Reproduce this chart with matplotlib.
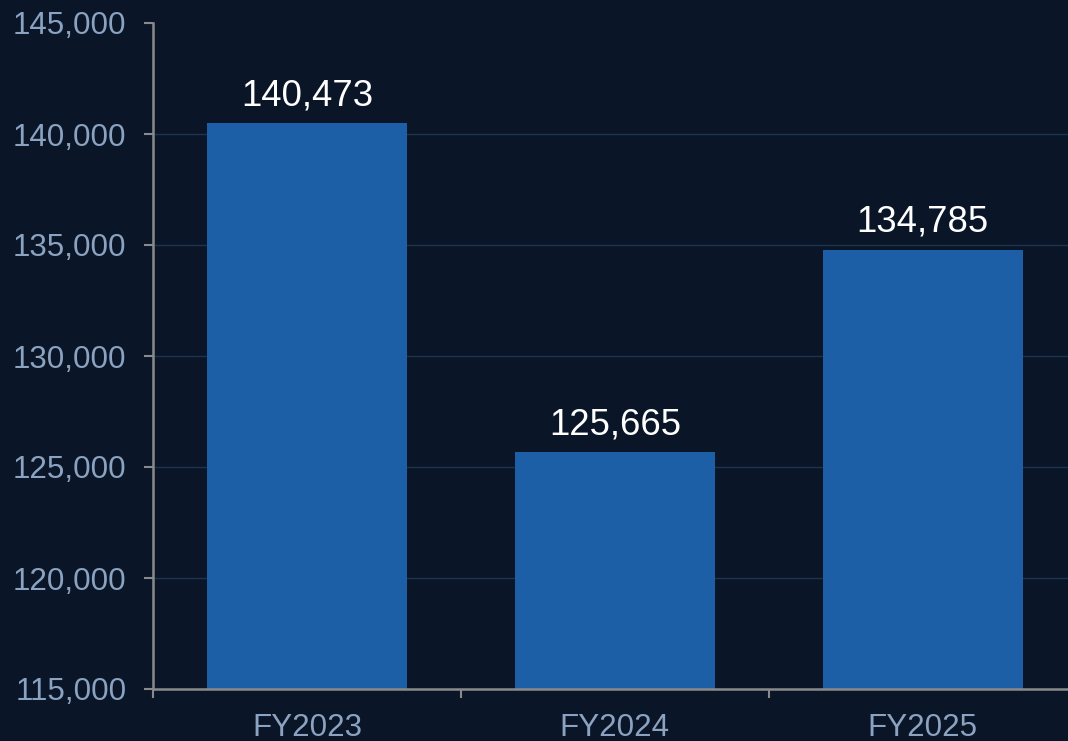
import matplotlib
matplotlib.use('Agg')
import matplotlib.pyplot as plt
from matplotlib.ticker import FuncFormatter, FixedLocator

years = ['FY2023', 'FY2024', 'FY2025']
values = [140473, 125665, 134785]
y_ticks = [115000, 120000, 125000, 130000, 135000, 140000, 145000]

bg = '#0a1628'
bar_color = '#1c5fa6'
tick_color = '#8ba3c0'
axis_color = '#8a8a8a'
grid_color = '#1c3450'

plt.rcParams['font.family'] = ['Liberation Sans', 'DejaVu Sans']

fig = plt.figure(figsize=(10.68, 7.41), dpi=100, facecolor=bg)
ax = fig.add_axes([153 / 1068, 1 - 689 / 741, (1076.5 - 153) / 1068, (689 - 23) / 741])
ax.set_facecolor(bg)

x = range(len(years))
bars = ax.bar(x, values, width=0.65, color=bar_color, zorder=2)

ax.set_xlim(-0.5, 2.5)
ax.set_ylim(115000, 145000)
ax.set_yticks(y_ticks)
ax.yaxis.set_major_formatter(FuncFormatter(lambda v, p: f'{int(v):,}'))
ax.set_xticks(list(x))
ax.set_xticklabels(years)
ax.xaxis.set_minor_locator(FixedLocator([-0.5, 0.5, 1.5, 2.5]))

ax.tick_params(axis='y', colors=axis_color, labelcolor=tick_color, labelsize=22.6,
               length=6.5, width=1.5, pad=12.5)
ax.tick_params(axis='x', which='major', length=0, labelcolor=tick_color,
               labelsize=22.6, pad=17)
ax.tick_params(axis='x', which='minor', length=6.5, width=1.5, colors=axis_color)

ax.grid(axis='y', color=grid_color, linewidth=1, zorder=0)
ax.yaxis.get_gridlines()[-1].set_visible(False)

for s in ['top', 'right']:
    ax.spines[s].set_visible(False)
for s in ['left', 'bottom']:
    ax.spines[s].set_color(axis_color)
    ax.spines[s].set_linewidth(1.8)

for xi, v in zip(x, values):
    ax.annotate(f'{v:,}', (xi, v), xytext=(0, 13), textcoords='offset points',
                ha='center', va='baseline', color='white', fontsize=26.3)

fig.savefig('out.png', dpi=100, facecolor=bg)
